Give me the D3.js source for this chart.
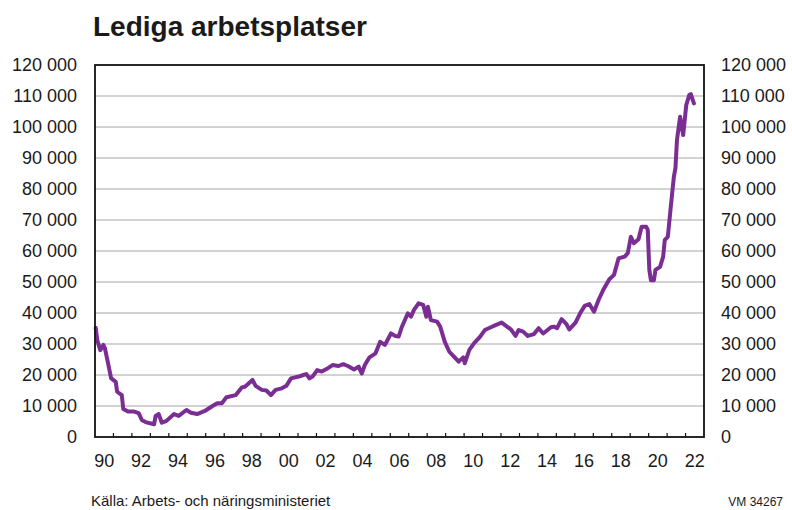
<!DOCTYPE html>
<html>
<head>
<meta charset="utf-8">
<script src="https://cdn.jsdelivr.net/npm/d3@7"></script>
<style>
  body { margin: 0; background: #fff; }
  svg text { font-family: "Liberation Sans", Arial, sans-serif; fill: #1a1a1a; }
</style>
</head>
<body>
<svg id="chart" width="792" height="510"></svg>
<script>
// lediga arbetsplatser, månad och antal
const months = [
  "1990-01","1990-02","1990-04","1990-06","1990-07","1990-09","1990-11",
  "1991-02","1991-03","1991-06","1991-07","1991-10",
  "1992-02","1992-05","1992-07","1992-10",
  "1993-03","1993-04","1993-06","1993-08","1993-11",
  "1994-04","1994-07","1994-12",
  "1995-03","1995-07","1995-12",
  "1996-05","1996-08","1996-11",
  "1997-02","1997-08","1997-12",
  "1998-02","1998-07","1998-09",
  "1999-01","1999-04","1999-07","1999-10",
  "2000-02","2000-05","2000-08",
  "2001-01","2001-04","2001-06","2001-08","2001-10",
  "2002-01","2002-04","2002-08","2002-11",
  "2003-03","2003-06","2003-09",
  "2004-01","2004-04","2004-06","2004-08","2004-11",
  "2005-03","2005-06","2005-09",
  "2006-01","2006-04","2006-06","2006-08","2006-12",
  "2007-02","2007-04","2007-07","2007-10","2007-12",
  "2008-01","2008-03","2008-07","2008-09","2008-12",
  "2009-03","2009-06","2009-09","2009-12",
  "2010-01","2010-04","2010-07","2010-11",
  "2011-02","2011-06","2011-09",
  "2012-01","2012-04","2012-07","2012-10","2012-12",
  "2013-03","2013-06","2013-10",
  "2014-01","2014-04","2014-09","2014-11",
  "2015-01","2015-04","2015-07","2015-09",
  "2016-01","2016-04","2016-07","2016-10",
  "2017-01","2017-04","2017-07","2017-11",
  "2018-02","2018-05","2018-09","2018-11",
  "2019-01","2019-03","2019-06","2019-08","2019-11","2019-12",
  "2020-01","2020-02","2020-04","2020-05","2020-08","2020-10","2020-11",
  "2021-01","2021-03","2021-05","2021-06","2021-07","2021-09","2021-11",
  "2022-01","2022-03","2022-04","2022-06"
];
const vacancies = [
  35200,31300,28000,29700,28700,23900,19000,
  17800,14600,13500,9000,8200,
  8200,7700,5500,4700,
  4100,6800,7400,4600,5200,
  7400,6800,8700,
  7800,7400,8400,
  10000,10900,10900,
  12800,13500,16000,
  16200,18400,16500,
  15200,15000,13500,15200,
  15700,16500,18900,
  19500,20000,20300,18900,19500,
  21600,21100,22200,23200,
  22900,23500,22900,
  21800,22700,20500,23200,25700,
  27000,30700,29700,
  33400,32600,32400,35400,39900,
  38800,41000,43100,42600,38800,
  42000,37700,37200,35600,30700,
  27500,25900,24300,25700,
  23800,28100,30200,32400,
  34500,35400,36100,
  36900,35800,34700,32600,34500,
  34000,32600,33200,
  35100,33400,35400,35600,
  35100,38000,36500,34700,
  36900,39900,42300,42900,
  40400,44200,47400,50900,
  52300,57600,58200,59300,
  64600,62500,63800,67800,67800,66800,
  53900,50600,50600,53900,54900,58200,63500,
  64600,74300,84000,86700,95800,103300,97400,
  107100,110300,110600,107600
];
const yTicks = [0,10000,20000,30000,40000,50000,60000,70000,80000,90000,100000,110000,120000];
const yearLabels = [1990,1992,1994,1996,1998,2000,2002,2004,2006,2008,2010,2012,2014,2016,2018,2020,2022];

const title = "Lediga arbetsplatser";
const source = "Källa: Arbets- och näringsministeriet";
const code = "VM 34267";

const margin = {top: 65, right: 88, bottom: 73, left: 95};
const width = 792, height = 510;

const svg = d3.select("#chart");
const parse = d3.timeParse("%Y-%m");
const data = months.map((m, i) => {
  const d = parse(m);
  return {date: new Date(d.getFullYear(), d.getMonth(), 15), value: vacancies[i]};
});

const x = d3.scaleTime()
  .domain([new Date(1990, 0, 1), new Date(2023, 0, 1)])
  .range([margin.left, width - margin.right]);
const y = d3.scaleLinear()
  .domain([0, 120000])
  .range([height - margin.bottom, margin.top]);

const fmt = v => d3.format(",")(v).replace(/,/g, " ");

// rutnät
svg.append("g")
  .selectAll("line")
  .data(yTicks.slice(1, -1))
  .join("line")
  .attr("x1", margin.left).attr("x2", width - margin.right)
  .attr("y1", d => y(d)).attr("y2", d => y(d))
  .attr("stroke", "#a6a6a6").attr("stroke-width", 1);

// årsstreck
svg.append("g")
  .selectAll("line")
  .data(d3.timeYear.range(new Date(1991, 0, 1), new Date(2023, 0, 1)))
  .join("line")
  .attr("x1", d => x(d)).attr("x2", d => x(d))
  .attr("y1", y(0)).attr("y2", y(0) - 4)
  .attr("stroke", "#111").attr("stroke-width", 1.2);

// serie
const line = d3.line()
  .x(d => x(d.date))
  .y(d => y(d.value))
  .curve(d3.curveLinear);

svg.append("path")
  .datum(data)
  .attr("d", line)
  .attr("fill", "none")
  .attr("stroke", "#7a2e93")
  .attr("stroke-width", 4)
  .attr("stroke-linejoin", "round")
  .attr("stroke-linecap", "round");

// ram
svg.append("rect")
  .attr("x", margin.left).attr("y", margin.top)
  .attr("width", width - margin.left - margin.right)
  .attr("height", height - margin.top - margin.bottom)
  .attr("fill", "none").attr("stroke", "#111").attr("stroke-width", 1.8);

// y-etiketter
svg.append("g")
  .selectAll("text")
  .data(yTicks)
  .join("text")
  .attr("x", margin.left - 18).attr("y", d => y(d))
  .attr("dy", "0.35em").attr("text-anchor", "end")
  .attr("font-size", 18)
  .text(fmt);

svg.append("g")
  .selectAll("text")
  .data(yTicks)
  .join("text")
  .attr("x", width - margin.right + 17).attr("y", d => y(d))
  .attr("dy", "0.35em").attr("text-anchor", "start")
  .attr("font-size", 18)
  .text(fmt);

// x-etiketter
svg.append("g")
  .selectAll("text")
  .data(yearLabels)
  .join("text")
  .attr("x", d => x(new Date(d, 6, 1)))
  .attr("y", 467)
  .attr("text-anchor", "middle")
  .attr("font-size", 18)
  .text(d => String(d % 100).padStart(2, "0"));

svg.append("text")
  .attr("x", 93).attr("y", 36)
  .attr("font-size", 28).attr("font-weight", "bold")
  .text(title);

svg.append("text")
  .attr("x", 91).attr("y", 506)
  .attr("font-size", 15)
  .text(source);

svg.append("text")
  .attr("x", 783).attr("y", 506)
  .attr("text-anchor", "end")
  .attr("font-size", 12)
  .text(code);
</script>
</body>
</html>
